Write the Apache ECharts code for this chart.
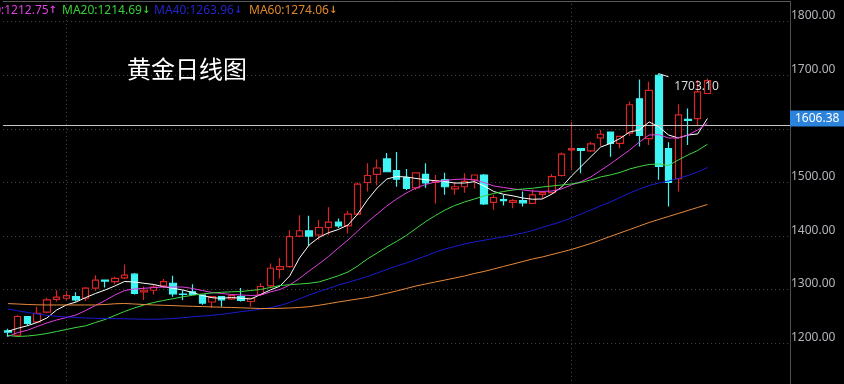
<!DOCTYPE html>
<html><head><meta charset="utf-8">
<script src="https://cdn.jsdelivr.net/npm/echarts@6/dist/echarts.min.js"></script>
<style>html,body{margin:0;padding:0;background:#000;}#c{width:844px;height:384px;}</style>
</head><body><div id="c"></div>
<script>
// ---- data ----
const categories = Array.from({length: 73}, (_, i) => 'D' + (i + 1));
const opens  = [1223,1215,1250,1240,1258,1282,1284,1287,1284,1303,1318,1315,1322,1329,1296,1299,1307,1312,1292,1296,1290,1277,1287,1283,1287,1278,1291,1307,1338,1343,1400,1410,1402,1416,1426,1419,1441,1500,1515,1544,1522,1509,1490,1515,1500,1505,1488,1492,1505,1514,1463,1468,1463,1466,1461,1478,1481,1513,1561,1563,1559,1583,1594,1573,1592,1656,1582,1700,1563,1507,1618,1619,1666];
const closes = [1221,1250,1237,1256,1281,1286,1289,1281,1303,1318,1316,1321,1327,1293,1299,1305,1315,1292,1291,1291,1275,1287,1281,1289,1280,1284,1306,1340,1343,1399,1410,1400,1416,1426,1419,1441,1497,1513,1527,1520,1506,1489,1518,1499,1503,1492,1492,1502,1514,1460,1472,1466,1466,1462,1477,1481,1511,1553,1563,1560,1572,1590,1573,1586,1645,1588,1672,1530,1500,1626,1616,1669,1690];
const lows   = [1212,1212,1233,1238,1256,1278,1279,1278,1279,1298,1304,1310,1320,1291,1281,1291,1303,1287,1281,1290,1272,1266,1268,1281,1278,1268,1288,1303,1321,1341,1398,1382,1393,1402,1415,1405,1439,1483,1495,1520,1492,1486,1486,1490,1461,1477,1477,1481,1489,1458,1449,1457,1452,1455,1460,1470,1480,1511,1523,1517,1557,1568,1548,1564,1587,1567,1570,1505,1455,1483,1570,1606,1666];
const highs  = [1227,1253,1251,1268,1285,1299,1298,1295,1305,1327,1319,1324,1347,1331,1306,1310,1320,1326,1299,1310,1291,1288,1288,1291,1303,1285,1312,1349,1359,1411,1439,1438,1430,1454,1433,1447,1500,1536,1543,1555,1557,1525,1519,1536,1514,1518,1500,1517,1515,1516,1477,1477,1469,1483,1487,1483,1516,1556,1613,1563,1576,1598,1594,1587,1651,1692,1688,1703.10,1575,1646,1638,1691,1694];
const ma5  = [1222.4,1228,1232.8,1238.8,1247.2,1262,1271.5,1277,1285.4,1292.9,1299.4,1307,1315.3,1314.4,1312,1309.7,1305.6,1302.6,1299.4,1294.8,1289.2,1285,1284,1285.4,1284,1282.6,1291,1299.4,1306.7,1325.6,1359,1383.4,1397.4,1406.3,1412.3,1420.7,1441.2,1467.4,1489.7,1506.5,1511.2,1510.3,1507.5,1505.2,1503.2,1501.5,1499,1499,1501.5,1493.5,1483.2,1478,1475,1471,1468.7,1469.2,1478.5,1491.6,1512,1530,1548,1566,1572.8,1582,1594.2,1598,1612.9,1603.6,1588.6,1583,1588.6,1590.5,1619.4];
const ma10 = [1212.75,1220,1224.3,1231.3,1237.9,1243.5,1248,1252.8,1261.2,1270.5,1279.9,1290,1298.5,1301.3,1302.6,1304,1305,1305,1305,1302.2,1298.5,1294.8,1293,1291,1290.1,1289.2,1290,1295.7,1300.4,1308.8,1320.9,1334.9,1348,1362,1377.8,1392.7,1409.5,1426.3,1441.2,1456.2,1469.2,1480.4,1489.7,1496.3,1501,1503.8,1505.6,1506.5,1504.7,1500,1493.5,1490.7,1488,1486,1484,1483.3,1484,1488,1495.4,1501.5,1510.3,1522.4,1534.5,1547.6,1560.6,1575.6,1588.6,1589.2,1583,1583,1588.6,1598,1610.5];
const ma20 = [1214.69,1212.7,1213.6,1215.5,1218.3,1222,1225.7,1229.5,1232.6,1238.8,1244.4,1251.9,1259.3,1265.9,1271.5,1276.1,1279.9,1283.2,1286.8,1289.6,1292,1293.9,1295.2,1296.1,1296.6,1298.5,1300.4,1304.1,1307.8,1309.3,1310.6,1312,1314.4,1320,1326,1333,1344.2,1357.3,1368.5,1379.7,1390,1401.1,1414.2,1427.2,1438.4,1448.7,1457.1,1463.6,1469.2,1474.8,1479.5,1483.2,1486,1487.9,1489.2,1491.6,1493.5,1495.3,1497.2,1500,1504.7,1510.3,1514,1518.7,1525.2,1529.9,1533.6,1534.5,1531.7,1542,1551.3,1559.7,1571.3];
const ma40 = [1263.96,1260.6,1257.5,1254.7,1252.2,1250.4,1249,1248.1,1247.2,1246.6,1246.3,1245.9,1245.7,1245.3,1245,1244.8,1245.3,1246.3,1247.8,1249.4,1250.9,1252.2,1254.1,1256.5,1259,1261.2,1263.4,1266.5,1270.5,1276,1283,1290,1296.5,1302.5,1308.5,1313.8,1319,1324.6,1331.2,1337.7,1344.2,1349.8,1356.3,1362.9,1370.3,1375.9,1380.6,1385.3,1389,1392.2,1395.5,1398.7,1402,1405.8,1410.4,1416,1421.6,1427.2,1433.8,1441.2,1448.7,1456.2,1463.6,1472,1480.4,1487.9,1494.4,1499.1,1502.8,1507.5,1513.1,1519.6,1528];
const ma60 = [1274.06,1273.3,1272.4,1271.8,1271.5,1271.5,1271.5,1271.5,1271.5,1271.5,1272.4,1273.7,1274.3,1273.3,1272.4,1271.5,1270.9,1270.3,1269.6,1269,1268.5,1267.9,1267.3,1266.8,1266.2,1265.5,1264.9,1264.9,1265.3,1265.9,1266.8,1268.3,1270.9,1273.9,1277,1279.9,1282.7,1285.4,1289.2,1293.3,1297.6,1302.2,1306.9,1310.6,1314.4,1318.1,1321.8,1325.6,1330.2,1334,1338.6,1343.3,1347.9,1352.6,1357.3,1361,1365.7,1370.3,1375,1380.6,1386.2,1392.7,1399.3,1405.8,1412.3,1418.8,1425.4,1431,1436.6,1442.2,1447.8,1453.4,1459];
const yTicks = [1200, 1300, 1400, 1500, 1600, 1700, 1800];
const lastPrice = 1606.38;
const highIndex = 67;
const highValue = 1703.10;
const dividerIndexes = [6, 58];
const legendItems = [
  {name: 'MA10', value: '1212.75', arrow: '↑'},
  {name: 'MA20', value: '1214.69', arrow: '↓'},
  {name: 'MA40', value: '1263.96', arrow: '↓'},
  {name: 'MA60', value: '1274.06', arrow: '↓'}
];
const titleText = '黄金日线图';

// ---- chart ----
const candleData = opens.map((o, i) => [o, closes[i], lows[i], highs[i]]);
const UP = '#d82626', DOWN = '#40f4f4';
const lineColors = ['#ffffff', '#e040e0', '#3fd83f', '#1a1ad2', '#e88a3a'];
const legendColors = ['#e040e0', '#38d038', '#2424c8', '#e0882a'];
const legendX = [57, 62, 154, 249];
const legendAlign = ['right', 'left', 'left', 'left'];
const FONT = '"Noto Sans", "DejaVu Sans", sans-serif';

function maSeries(name, data, color) {
  return {name, type: 'line', data, showSymbol: false, symbol: 'none', z: 5,
    lineStyle: {color, width: 1}, itemStyle: {color}, silent: true, animation: false};
}

const chart = echarts.init(document.getElementById('c'), null, {renderer: 'canvas'});
chart.setOption({
  backgroundColor: '#000',
  animation: false,
  grid: {left: 3.14, right: 54, top: 1.3, height: 395.6, containLabel: false, outerBoundsMode: 'none'},
  xAxis: {
    type: 'category', data: categories, max: 80, position: 'top', boundaryGap: true,
    axisLine: {show: true, lineStyle: {color: '#5a5a5a', width: 1}},
    axisTick: {show: false}, axisLabel: {show: false}, splitLine: {show: false}
  },
  yAxis: {
    type: 'value', position: 'right', min: 1100, max: 1838, interval: 100, scale: true,
    axisLine: {show: true, lineStyle: {color: '#4e4e4e', width: 1}},
    axisTick: {show: false},
    axisLabel: {
      color: '#b4b4bc', fontFamily: FONT, fontSize: 12, margin: 1, verticalAlign: 'bottom',
      showMinLabel: false, showMaxLabel: false,
      formatter: v => (yTicks.indexOf(v) >= 0 ? v.toFixed(2) : '')
    },
    splitLine: {show: true, lineStyle: {color: '#4a4a4a', type: [1, 3], width: 1}}
  },
  series: [
    {
      type: 'candlestick', data: candleData, barWidth: 7, z: 2, silent: true,
      itemStyle: {color: '#000', color0: DOWN, borderColor: UP, borderColor0: DOWN, borderWidth: 1.2},
      markLine: {
        silent: true, symbol: ['none', 'none'], animation: false,
        data: [
          ...dividerIndexes.map(ix => ({xAxis: ix, lineStyle: {color: '#4a4a4a', type: [1, 3], width: 1}, label: {show: false}})),
          {yAxis: lastPrice, lineStyle: {color: '#c4c4c4', type: 'solid', width: 1},
           label: {show: true, position: 'end', distance: 0, offset: [0, -7], formatter: lastPrice.toFixed(2),
                   color: '#ffffff', fontFamily: FONT, fontSize: 12, backgroundColor: '#2b83db',
                   padding: [2, 7, 2, 5]}},
          [{coord: [highIndex, highValue], lineStyle: {color: '#e8e8e8', type: 'solid', width: 1}, label: {show: false}},
           {coord: [highIndex + 1, highValue - 6]}]
        ]
      },
      markPoint: {
        silent: true, animation: false,
        data: [{coord: [highIndex, highValue], symbol: 'circle', symbolSize: 1,
                itemStyle: {color: 'rgba(0,0,0,0)'},
                label: {show: true, position: [16, 13], align: 'left', verticalAlign: 'middle',
                        formatter: highValue.toFixed(2), color: '#dcdcdc', fontFamily: FONT, fontSize: 12}}]
      }
    },
    maSeries('MA5', ma5, lineColors[0]),
    maSeries('MA10', ma10, lineColors[1]),
    maSeries('MA20', ma20, lineColors[2]),
    maSeries('MA40', ma40, lineColors[3]),
    maSeries('MA60', ma60, lineColors[4])
  ],
  graphic: [
    ...legendItems.map((it, k) => ({
      type: 'text', silent: true, z: 100,
      style: {text: it.name + ':' + it.value + '{a|' + it.arrow + '}', x: legendX[k], y: 10.5,
              align: legendAlign[k], verticalAlign: 'middle', fill: legendColors[k],
              font: '12px ' + FONT,
              rich: {a: {fontSize: 10, fontWeight: 'bold', fontFamily: FONT, fill: legendColors[k]}}}
    })),
    {type: 'text', silent: true, z: 100,
     style: {text: titleText, x: 127, y: 68.5, align: 'left', verticalAlign: 'middle', fill: '#ffffff',
             font: '24px "Noto Sans CJK SC", sans-serif'}}
  ]
});
</script></body></html>
